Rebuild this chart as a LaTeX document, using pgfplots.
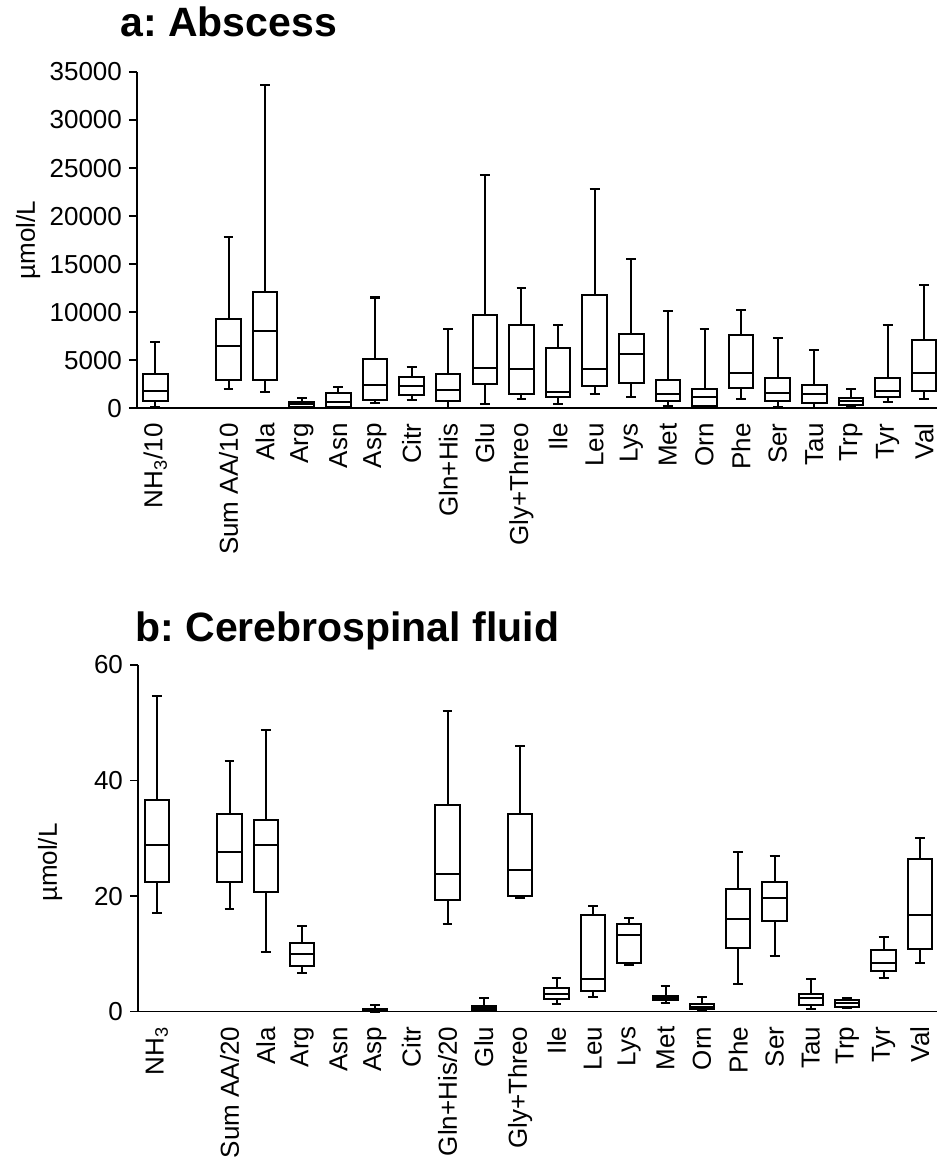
\documentclass[border=0pt]{standalone}
\usepackage{pgfplots}
\pgfplotsset{compat=1.18}
\usepackage{pgfplotstable}
\usepgfplotslibrary{statistics}
\usepackage{fontspec}
\setmainfont{Liberation Sans}
\frenchspacing

% Abscess (umol/L)
\pgfplotstableread{
pos lw lq med uq uw
0 150 760 1840 3570 6940
2 2010 2950 6530 9340 17780
3 1660 2950 8020 12090 33620
4 0 100 420 660 1040
5 0 170 620 1590 2220
6 520 900 2400 5170 11530
7 830 1420 2360 3260 4300
8 80 760 1910 3570 8230
9 480 2500 4230 9690 24310
10 1000 1460 4060 8650 12570
11 450 1180 1660 6280 8710
12 1520 2320 4090 11740 22850
13 1180 2670 5620 7780 15560
14 240 760 1520 2920 10100
15 100 240 1140 2040 8230
16 970 2080 3650 7600 10210
17 100 730 1630 3120 7360
18 80 590 1460 2460 6070
19 150 310 730 1040 2010
20 690 1210 1840 3190 8650
21 940 1770 3680 7090 12780
}\tabA

% Cerebrospinal fluid (umol/L)
\pgfplotstableread{
pos lw lq med uq uw
0 17.1 22.5 28.8 36.6 54.6
2 17.8 22.5 27.6 34.2 43.4
3 10.4 20.7 28.9 33.1 48.8
4 6.75 7.9 9.9 11.9 14.9
6 0 0.05 0.25 0.45 1.1
8 15.1 19.3 23.9 35.8 52.1
9 0.1 0.3 0.63 1.04 2.4
10 19.6 20.1 24.5 34.2 46.0
11 1.27 2.13 3.06 4.04 5.9
12 2.6 3.6 5.65 16.8 18.3
13 8.0 8.5 13.2 15.1 16.3
14 1.44 2.0 2.4 2.8 4.4
15 0.1 0.46 0.87 1.27 2.5
16 4.85 11.0 16.1 21.3 27.7
17 9.7 15.75 19.7 22.4 27.0
18 0.5 1.1 2.4 3.0 5.6
19 0.63 0.8 1.56 2.1 2.4
20 5.9 7.0 8.5 10.6 13.0
21 8.5 10.8 16.8 26.4 30.1
}\tabB

\newcommand{\boxrow}[2]{%
  \pgfplotstablegetelem{#2}{pos}\of#1\edef\bP{\pgfplotsretval}%
  \pgfplotstablegetelem{#2}{lw}\of#1\edef\bLW{\pgfplotsretval}%
  \pgfplotstablegetelem{#2}{lq}\of#1\edef\bLQ{\pgfplotsretval}%
  \pgfplotstablegetelem{#2}{med}\of#1\edef\bM{\pgfplotsretval}%
  \pgfplotstablegetelem{#2}{uq}\of#1\edef\bUQ{\pgfplotsretval}%
  \pgfplotstablegetelem{#2}{uw}\of#1\edef\bUW{\pgfplotsretval}%
  \edef\tmp{\noexpand\addplot[black, line width=1pt, solid,
    boxplot prepared={draw direction=y, draw position=\bP, lower whisker=\bLW, lower quartile=\bLQ,
      median=\bM, upper quartile=\bUQ, upper whisker=\bUW,
      box extend=0.67, whisker extend=0.27}]
    coordinates {};}%
  \tmp
}

\pgfplotsset{
  mystyle/.style={
    scale only axis,
    axis x line*=bottom, axis y line*=left,
    axis line style={line width=0.8pt, -},
    xtick={0,2,3,...,21},
    xtick style={draw=none},
    ytick style={line width=0.8pt, black},
    tick align=outside,
    major tick length=4pt,
    tick label style={font=\fontsize{13}{15}\selectfont},
    label style={font=\fontsize{13}{15}\selectfont},
    xticklabel style={rotate=90, anchor=east},
    /pgf/number format/assume math mode=true,
    /pgf/number format/1000 sep={},
    scaled y ticks=false,
    clip=false,
  }
}

\begin{document}
\begin{tikzpicture}
\useasboundingbox (0,0) rectangle (468.5pt,580pt);
\node[anchor=base west, font=\fontsize{20.5}{25}\selectfont\bfseries, inner sep=0pt] at (60pt,561.5pt) {a: Abscess};
\node[anchor=base west, font=\fontsize{20.5}{25}\selectfont\bfseries, inner sep=0pt] at (67.5pt,259pt) {b: Cerebrospinal fluid};

\begin{axis}[mystyle,
  at={(68.5pt,375.85pt)}, anchor=south west,
  width=400pt, height=168.15pt,
  xmin=-0.5, xmax=21.35, ymin=0, ymax=35000,
  ytick={0,5000,...,35000},
  xticklabels={NH\textsubscript{3}/10, Sum AA/10, Ala, Arg, Asn, Asp, Citr, Gln+His, Glu, Gly+Threo, Ile, Leu, Lys, Met, Orn, Phe, Ser, Tau, Trp, Tyr, Val},
  ylabel={µmol/L},
  ylabel style={at={(rel axis cs:-0.136,0.5)}, anchor=center},
]
\pgfplotsinvokeforeach{0,...,20}{\boxrow{\tabA}{#1}}
\end{axis}

\begin{axis}[mystyle,
  at={(69pt,74.15pt)}, anchor=south west,
  width=399.5pt, height=173.35pt,
  xmin=-0.52, xmax=21.47, ymin=0, ymax=60,
  ytick={0,20,40,60},
  xticklabels={NH\textsubscript{3}, Sum AA/20, Ala, Arg, Asn, Asp, Citr, Gln+His/20, Glu, Gly+Threo, Ile, Leu, Lys, Met, Orn, Phe, Ser, Tau, Trp, Tyr, Val},
  ylabel={µmol/L},
  ylabel style={at={(rel axis cs:-0.110,0.43)}, anchor=center},
]
\pgfplotsinvokeforeach{0,...,18}{\boxrow{\tabB}{#1}}
\end{axis}
\end{tikzpicture}
\end{document}
